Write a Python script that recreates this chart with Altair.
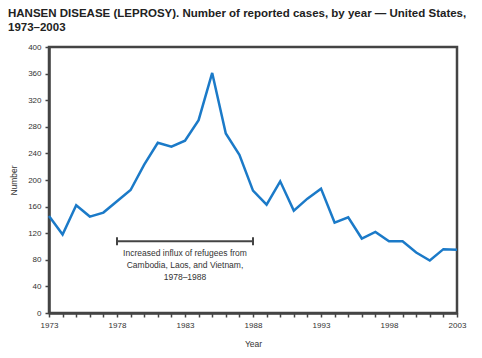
import altair as alt
import pandas as pd

years = list(range(1973, 2004))
cases = [146, 118, 162, 145, 151, 168, 185, 223, 256, 250, 259, 290, 361, 270, 238,
         184, 163, 198, 154, 172, 187, 136, 144, 112, 122, 108, 108, 91, 79, 96, 95]

ann_start = [1978]
ann_end = [1988]
ann_level = [108]
ann_text = ["Increased influx of refugees from\nCambodia, Laos, and Vietnam,\n1978\u20131988"]

df = pd.DataFrame({"year": years, "cases": cases})
ann = pd.DataFrame({"x1": ann_start, "x2": ann_end, "y": ann_level,
                    "mid": [(a + b) / 2 for a, b in zip(ann_start, ann_end)],
                    "text": ann_text})
caps = pd.DataFrame({"x": ann_start + ann_end,
                     "lo": [v - 6 for v in ann_level] * 2,
                     "hi": [v + 6 for v in ann_level] * 2})

AX = "#444444"
FONT = "Liberation Sans"

x_axis = alt.Axis(values=years, format="d", title="Year",
                  labelExpr="(datum.value - 1973) % 5 == 0 ? datum.label : ''",
                  labelOverlap=False,
                  grid=False, tickSize=4, tickWidth=1.5, tickColor=AX,
                  domainColor=AX, domainWidth=2.5, labelFontSize=8,
                  labelColor="#333", labelPadding=4, titleFontSize=8.5,
                  titleFontWeight="normal", titleColor="#333", titlePadding=10,
                  labelFont=FONT, titleFont=FONT, labelFlush=False)
y_axis = alt.Axis(values=list(range(0, 401, 40)), title="Number", grid=False,
                  labelOverlap=False,
                  tickSize=4, tickWidth=1.5, tickColor=AX, domainColor=AX,
                  domainWidth=2.5, labelFontSize=8, labelColor="#333",
                  labelPadding=4, titleFontSize=8.5, titleFontWeight="normal",
                  titleColor="#333", titlePadding=9, labelFont=FONT,
                  titleFont=FONT)
x_scale = alt.Scale(domain=[1973, 2003], nice=False, zero=False)
y_scale = alt.Scale(domain=[0, 400], nice=False)

line = alt.Chart(df).mark_line(color="#1b7ac8", strokeWidth=2.5).encode(
    x=alt.X("year:Q", scale=x_scale, axis=x_axis),
    y=alt.Y("cases:Q", scale=y_scale, axis=y_axis))

hbar = alt.Chart(ann).mark_rule(color=AX, strokeWidth=2).encode(
    x=alt.X("x1:Q", scale=x_scale, axis=x_axis), x2="x2:Q",
    y=alt.Y("y:Q", scale=y_scale, axis=y_axis))
cap = alt.Chart(caps).mark_rule(color=AX, strokeWidth=2).encode(
    x=alt.X("x:Q", scale=x_scale, axis=x_axis),
    y=alt.Y("lo:Q", scale=y_scale, axis=y_axis), y2="hi:Q")
txt = alt.Chart(ann).mark_text(lineBreak="\n", fontSize=8.5, color="#333", font=FONT,
                               baseline="top", dy=8, lineHeight=12).encode(
    x=alt.X("mid:Q", scale=x_scale, axis=x_axis),
    y=alt.Y("y:Q", scale=y_scale, axis=y_axis), text="text:N")

chart = alt.layer(line, hbar, cap, txt).properties(
    width=408, height=266,
    autosize=alt.AutoSizeParams(type="none"),
    padding={"left": 41, "top": 39, "right": 17, "bottom": 37},
    title=alt.TitleParams(
        ["HANSEN DISEASE (LEPROSY). Number of reported cases, by year \u2014 United States,",
         "1973\u20132003"],
        anchor="start", frame="group", dx=-41, offset=10, fontSize=11.5,
        font=FONT, fontWeight="bold", color="#222", lineHeight=14),
).configure(background="white").configure_view(
    stroke=AX, strokeWidth=2.5).configure_axis(labelOverlap=False)

chart.save("out.html", embed_options={"renderer": "svg", "actions": False})
